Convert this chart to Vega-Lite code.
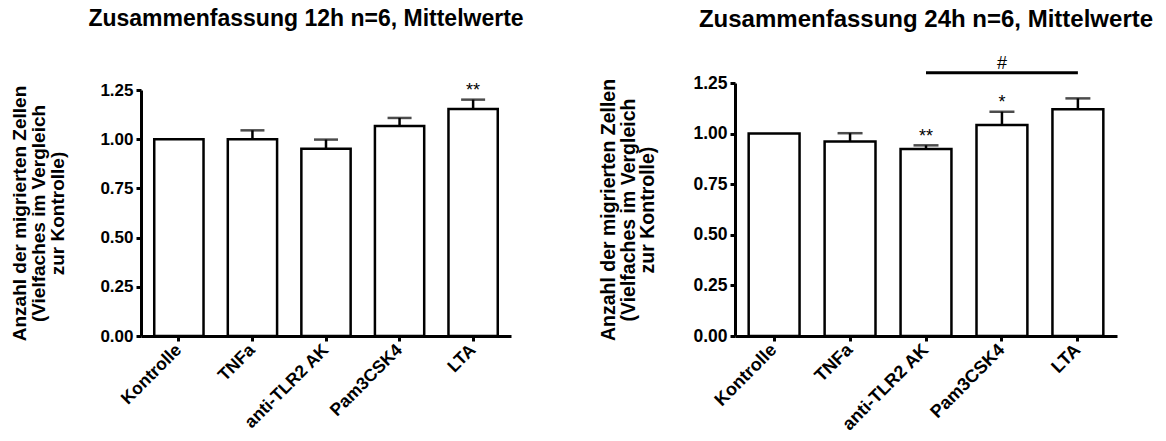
{
  "$schema": "https://vega.github.io/schema/vega-lite/v6.json",
  "padding": {"left": 10, "top": 8, "right": 5, "bottom": 0},
  "spacing": 74,
  "background": "white",
  "datasets": {
    "h12": [
      {"g": "Kontrolle", "m": 1.0, "e": null},
      {"g": "TNFa", "m": 1.0, "e": 1.045},
      {"g": "anti-TLR2 AK", "m": 0.952, "e": 0.998},
      {"g": "Pam3CSK4", "m": 1.067, "e": 1.108},
      {"g": "LTA", "m": 1.153, "e": 1.201}
    ],
    "h24": [
      {"g": "Kontrolle", "m": 1.0, "e": null},
      {"g": "TNFa", "m": 0.961, "e": 1.002},
      {"g": "anti-TLR2 AK", "m": 0.924, "e": 0.942},
      {"g": "Pam3CSK4", "m": 1.043, "e": 1.108},
      {"g": "LTA", "m": 1.12, "e": 1.174}
    ],
    "sig12": [
      {"g": "LTA", "y": 1.222, "t": "**"}
    ],
    "sig24": [
      {"g": "anti-TLR2 AK", "y": 0.957, "t": "**"},
      {"g": "Pam3CSK4", "y": 1.125, "t": "*"},
      {"g": "Pam3CSK4", "y": 1.317, "t": "#"}
    ],
    "bracket24": [
      {"a": "anti-TLR2 AK", "b": "LTA", "y": 1.301}
    ]
  },
  "config": {
    "view": {"stroke": null},
    "font": "Liberation Sans",
    "axis": {
      "domainColor": "black",
      "domainWidth": 3,
      "tickColor": "black",
      "tickWidth": 3,
      "tickSize": 5,
      "grid": false,
      "labelFont": "Liberation Sans",
      "labelFontWeight": "bold",
      "labelColor": "black",
      "titleFont": "Liberation Sans",
      "titleFontWeight": "bold",
      "titleColor": "black"
    },
    "title": {
      "font": "Liberation Sans",
      "fontWeight": "bold",
      "color": "black"
    }
  },
  "hconcat": [
    {
      "title": {"text": "Zusammenfassung 12h n=6, Mittelwerte", "offset": 50, "dx": -20, "fontSize": 23},
      "width": 370,
      "height": 253,
      "layer": [
        {
          "data": {"name": "h12"},
          "mark": {"type": "bar", "fill": "white", "stroke": "black", "strokeWidth": 2.5},
          "encoding": {
            "x": {
              "field": "g", "type": "nominal", "sort": null,
              "scale": {"domain": ["Kontrolle", "TNFa", "anti-TLR2 AK", "Pam3CSK4", "LTA"], "paddingInner": 0.33, "paddingOuter": 0.18},
              "axis": {"title": null, "labelAngle": -45, "labelAlign": "right", "labelBaseline": "middle", "labelPadding": 6, "labelFontSize": 17.5}
            },
            "y": {
              "field": "m", "type": "quantitative",
              "scale": {"domain": [0, 1.25], "nice": false, "range": [253, 7]},
              "axis": {
                "values": [0, 0.25, 0.5, 0.75, 1.0, 1.25],
                "format": ".2f",
                "labelPadding": 3,
                "labelFontSize": 17,
                "title": ["Anzahl der migrierten Zellen", "(Vielfaches im Vergleich", "zur Kontrolle)"],
                "titleFontSize": 19,
                "titleLineHeight": 19,
                "titlePadding": 32
              }
            }
          }
        },
        {
          "data": {"name": "h12"},
          "transform": [{"filter": "datum.e != null"}],
          "mark": {"type": "rule", "color": "black", "strokeWidth": 2.5},
          "encoding": {
            "x": {"field": "g", "type": "nominal", "sort": null},
            "y": {"field": "m", "type": "quantitative"},
            "y2": {"field": "e"}
          }
        },
        {
          "data": {"name": "h12"},
          "transform": [{"filter": "datum.e != null"}],
          "mark": {"type": "tick", "orient": "horizontal", "size": 24, "thickness": 2.5, "color": "black"},
          "encoding": {
            "x": {"field": "g", "type": "nominal", "sort": null},
            "y": {"field": "e", "type": "quantitative"}
          }
        },
        {
          "data": {"name": "sig12"},
          "mark": {"type": "text", "fontSize": 18, "baseline": "alphabetic", "color": "black", "font": "Liberation Sans"},
          "encoding": {
            "x": {"field": "g", "type": "nominal", "sort": null},
            "y": {"field": "y", "type": "quantitative"},
            "text": {"field": "t"}
          }
        }
      ]
    },
    {
      "title": {"text": "Zusammenfassung 24h n=6, Mittelwerte", "offset": 23, "fontSize": 24},
      "width": 382,
      "height": 253,
      "layer": [
        {
          "data": {"name": "h24"},
          "mark": {"type": "bar", "fill": "white", "stroke": "black", "strokeWidth": 2.5},
          "encoding": {
            "x": {
              "field": "g", "type": "nominal", "sort": null,
              "scale": {"domain": ["Kontrolle", "TNFa", "anti-TLR2 AK", "Pam3CSK4", "LTA"], "paddingInner": 0.33, "paddingOuter": 0.18},
              "axis": {"title": null, "labelAngle": -45, "labelAlign": "right", "labelBaseline": "middle", "labelPadding": 6, "labelFontSize": 18}
            },
            "y": {
              "field": "m", "type": "quantitative",
              "scale": {"domain": [0, 1.25], "nice": false},
              "axis": {
                "values": [0, 0.25, 0.5, 0.75, 1.0, 1.25],
                "format": ".2f",
                "labelPadding": 3,
                "labelFontSize": 17.5,
                "title": ["Anzahl der migrierten Zellen", "(Vielfaches im Vergleich", "zur Kontrolle)"],
                "titleFontSize": 19.5,
                "titleLineHeight": 19.5,
                "titlePadding": 35
              }
            }
          }
        },
        {
          "data": {"name": "h24"},
          "transform": [{"filter": "datum.e != null"}],
          "mark": {"type": "rule", "color": "black", "strokeWidth": 2.5},
          "encoding": {
            "x": {"field": "g", "type": "nominal", "sort": null},
            "y": {"field": "m", "type": "quantitative"},
            "y2": {"field": "e"}
          }
        },
        {
          "data": {"name": "h24"},
          "transform": [{"filter": "datum.e != null"}],
          "mark": {"type": "tick", "orient": "horizontal", "size": 25, "thickness": 2.5, "color": "black"},
          "encoding": {
            "x": {"field": "g", "type": "nominal", "sort": null},
            "y": {"field": "e", "type": "quantitative"}
          }
        },
        {
          "data": {"name": "bracket24"},
          "mark": {"type": "rule", "color": "black", "strokeWidth": 3},
          "encoding": {
            "x": {"field": "a", "type": "nominal", "sort": null},
            "x2": {"field": "b"},
            "y": {"field": "y", "type": "quantitative"}
          }
        },
        {
          "data": {"name": "sig24"},
          "mark": {"type": "text", "fontSize": 18, "baseline": "alphabetic", "color": "black", "font": "Liberation Sans"},
          "encoding": {
            "x": {"field": "g", "type": "nominal", "sort": null},
            "y": {"field": "y", "type": "quantitative"},
            "text": {"field": "t"}
          }
        }
      ]
    }
  ]
}
